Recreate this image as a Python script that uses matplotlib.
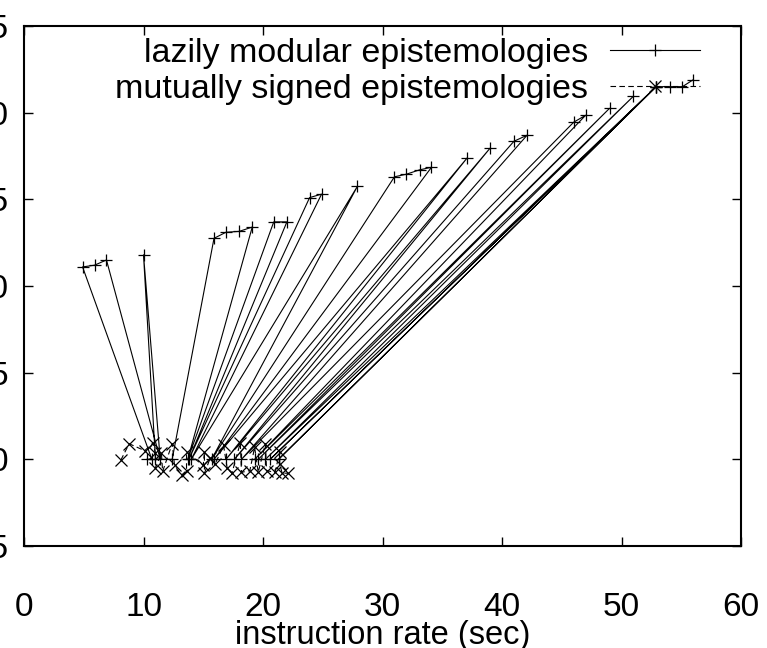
import matplotlib
matplotlib.use("Agg")
import matplotlib.pyplot as plt

plt.rcParams["font.family"] = ["Liberation Sans", "DejaVu Sans"]

# lazily modular epistemologies: high runs joined through points near zero
lazy_x = [10.3, 10.7, 4.9, 5.9, 6.9, 11.4, 10.0, 11.0, 12.4, 15.9, 16.9, 18.0, 19.1,
          13.7, 20.9, 22.0, 13.8, 23.9, 24.9, 14.0, 27.9, 15.7, 31.0, 32.0, 33.1, 34.1,
          15.9, 37.1, 16.9, 39.0, 17.6, 41.0, 42.1, 18.2, 46.0, 47.0, 19.3, 49.0, 19.6,
          51.0, 20.2, 52.9, 20.6, 52.9, 21.3, 52.9, 54.1, 55.1, 56.0]
lazy_y = [0.0, 0.0, 11.1, 11.2, 11.5, 0.0, 11.8, 0.0, 0.0, 12.75, 13.1, 13.15, 13.4,
          0.0, 13.7, 13.7, 0.0, 15.1, 15.3, 0.0, 15.75, 0.0, 16.3, 16.45, 16.7, 16.85,
          0.0, 17.4, 0.0, 17.95, 0.0, 18.35, 18.7, 0.0, 19.45, 19.85, 0.0, 20.25, 0.0,
          20.95, 0.0, 21.5, 0.0, 21.5, 0.0, 21.5, 21.5, 21.5, 21.9]

# mutually signed epistemologies: jitter around zero
signed_x = [8.1, 8.8, 10.1, 10.8, 11.0, 11.0, 11.5, 11.6, 12.4, 12.6, 13.2, 13.6, 13.6,
            15.0, 15.1, 15.1, 15.6, 16.0, 16.7, 17.0, 17.4, 18.1, 18.2, 18.9, 19.3, 19.6,
            20.2, 20.3, 21.0, 21.4, 21.4, 21.6, 22.1]
signed_y = [-0.05, 0.9, 0.5, 0.95, 0.35, -0.5, 0.35, -0.7, 0.9, -0.35, -0.9, -0.65, 0.4,
            -0.35, 0.4, -0.8, 0.1, -0.25, 0.8, -0.5, -0.8, 0.95, -0.75, -0.65, 0.7, -0.75,
            0.9, -0.65, -0.75, 0.4, -0.25, -0.8, -0.8]

x_ticks = [0, 10, 20, 30, 40, 50, 60]
y_ticks = [-5, 0, 5, 10, 15, 20, 25]

fig = plt.figure(figsize=(7.67, 6.48), dpi=100)
ax = fig.add_axes([24 / 767, 1 - 546 / 648, 717 / 767, 520 / 648])

ax.plot(lazy_x, lazy_y, "-", color="black", lw=0.8, marker="+", ms=9, mew=0.9,
        label="lazily modular epistemologies")
ax.plot(signed_x, signed_y, color="black", lw=0.8, dashes=(5, 3), marker="x", ms=8,
        mew=0.9, label="mutually signed epistemologies")

ax.set_xlim(0, 60)
ax.set_ylim(-5, 25)
ax.set_xticks(x_ticks)
ax.set_yticks(y_ticks)
ax.tick_params(direction="in", length=6.5, width=1.0, top=True, right=True,
               labelsize=24)
ax.tick_params(axis="x", pad=33)
ax.tick_params(axis="y", pad=11)
for spine in ax.spines.values():
    spine.set_linewidth(1.5)

ax.set_xlabel("instruction rate (sec)", fontsize=23.5, labelpad=-2)

ax.legend(loc="upper right", bbox_to_anchor=(0.943, 0.977), frameon=False,
          markerfirst=False, numpoints=1, fontsize=24.5, handlelength=2.65,
          handletextpad=0.65, labelspacing=0.15, borderpad=0, borderaxespad=0)

fig.savefig("out.png", dpi=100)
plt.close(fig)
